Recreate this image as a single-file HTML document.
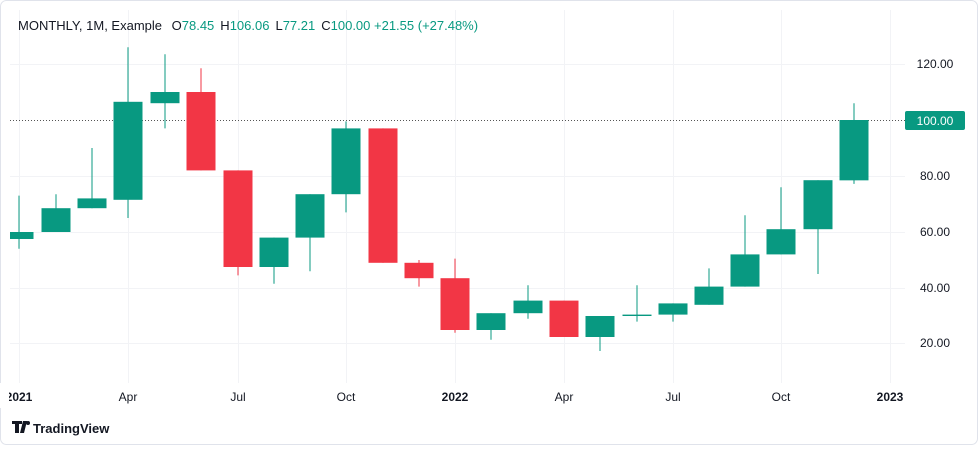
<!DOCTYPE html>
<html><head><meta charset="utf-8"><style>
body{margin:0;background:#fff;width:978px;height:445px;overflow:hidden;font-family:"Liberation Sans",sans-serif}
</style></head><body>
<svg width="978" height="445" xmlns="http://www.w3.org/2000/svg" font-family="Liberation Sans, sans-serif">
<defs><clipPath id="cp"><rect x="10" y="10" width="895" height="373"/></clipPath></defs>
<rect x="0.5" y="0.5" width="977" height="444" rx="6" fill="#fff" stroke="#e0e3eb"/>
<g stroke="#f2f3f6" stroke-width="1">
<line x1="10" x2="905" y1="64.5" y2="64.5"/><line x1="10" x2="905" y1="176.5" y2="176.5"/>
<line x1="10" x2="905" y1="232.5" y2="232.5"/><line x1="10" x2="905" y1="288.5" y2="288.5"/><line x1="10" x2="905" y1="343.5" y2="343.5"/>
<line x1="19.5" x2="19.5" y1="10" y2="383"/><line x1="128.5" x2="128.5" y1="10" y2="383"/><line x1="238.5" x2="238.5" y1="10" y2="383"/>
<line x1="346.5" x2="346.5" y1="10" y2="383"/><line x1="455.5" x2="455.5" y1="10" y2="383"/><line x1="564.5" x2="564.5" y1="10" y2="383"/>
<line x1="673.5" x2="673.5" y1="10" y2="383"/><line x1="781.5" x2="781.5" y1="10" y2="383"/><line x1="890.5" x2="890.5" y1="10" y2="383"/>
</g>
<line x1="10" x2="905" y1="120.5" y2="120.5" stroke="#555" stroke-dasharray="1,2"/>
<g id="c" clip-path="url(#cp)"></g>
<rect x="905" y="111" width="60" height="19" rx="2" fill="#089981"/>
<text x="935" y="125" fill="#fff" font-size="12" text-anchor="middle">100.00</text>
<g font-size="12" fill="#131722" text-anchor="middle">
<text x="935" y="68">120.00</text><text x="935" y="180">80.00</text><text x="935" y="236">60.00</text><text x="935" y="292">40.00</text><text x="935" y="347">20.00</text>
<text x="19" y="401" font-weight="bold">2021</text><text x="128" y="401">Apr</text><text x="238" y="401">Jul</text><text x="346" y="401">Oct</text>
<text x="455" y="401" font-weight="bold">2022</text><text x="564" y="401">Apr</text><text x="673" y="401">Jul</text><text x="781" y="401">Oct</text><text x="890" y="401" font-weight="bold">2023</text>
</g>
<rect x="0" y="383" width="9" height="25" fill="#fff"/>
<text x="18" y="30" font-size="13" fill="#131722">MONTHLY, 1M, Example <tspan dx="6">O</tspan><tspan fill="#089981">78.45</tspan><tspan dx="6">H</tspan><tspan fill="#089981">106.06</tspan><tspan dx="6">L</tspan><tspan fill="#089981">77.21</tspan><tspan dx="6">C</tspan><tspan fill="#089981">100.00 +21.55 (+27.48%)</tspan></text>
<g fill="#131722"><path d="M12 421h10v3h-3v9h-4v-9h-3z M23 421h4l-3 12h-4z"/><circle cx="28" cy="423" r="2"/></g>
<text x="33" y="433" font-size="13" fill="#131722" font-weight="bold">TradingView</text>
</svg>
<script>
var d=[[19,57.5,73,54,60],[56,60,73.5,60,68.5],[92,68.5,90,68.5,72],[128,71.5,126,65,106.5],[165,106,123.5,97,110],[201,110,118.5,82,82],[238,82,82,44.5,47.5],[274,47.5,58,41.5,58],[310,58,73.5,46,73.5],[346,73.5,99.5,67,97],[383,97,97,49,49],[419,49,50,40.5,43.5],[455,43.5,50.5,24,25],[491,25,31,21.5,31],[528,31,41,29,35.5],[564,35.5,35.5,22.5,22.5],[600,22.5,30,17.5,30],[637,30,41,28,30.5],[673,30.5,34.5,28,34.5],[709,34,47,34,40.5],[745,40.5,66,40.5,52],[781,52,76,52,61],[818,61,78.5,45,78.5],[854,78.45,106,77.2,100]];
function Y(p){return 120+(100-p)*2.8}
var s='';d.forEach(function(c){var col=c[4]>=c[1]?'#089981':'#F23645';var t=Y(Math.max(c[1],c[4])),b=Y(Math.min(c[1],c[4]));if(b-t<1)b=t+1;
s+='<line x1="'+c[0]+'" x2="'+c[0]+'" y1="'+Y(c[2])+'" y2="'+Y(c[3])+'" stroke="'+col+'"/>';
s+='<rect x="'+(c[0]-14.5)+'" y="'+t+'" width="29" height="'+(b-t)+'" fill="'+col+'"/>';});
document.getElementById('c').innerHTML=s;
</script>
</body></html>
